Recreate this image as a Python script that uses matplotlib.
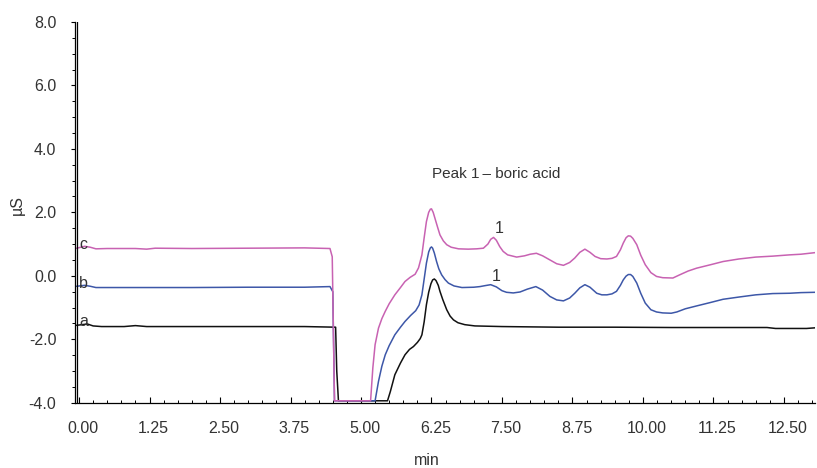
import matplotlib
matplotlib.use("Agg")
import matplotlib.pyplot as plt
from matplotlib.ticker import MultipleLocator, FormatStrFormatter
from matplotlib.transforms import ScaledTranslation

# ---- data (time in min, conductivity in µS) ----
a_t = [-0.04, 0.15, 0.25, 0.4, 0.8, 1.0, 1.2, 2.0, 3.0, 4.0, 4.55, 4.57, 4.6, 5.0,
       5.47, 5.52, 5.6, 5.7, 5.78, 5.86, 5.93, 6.0, 6.05, 6.08, 6.12, 6.16, 6.2, 6.24,
       6.27, 6.3, 6.33, 6.37, 6.4, 6.45, 6.52, 6.58, 6.64, 6.72, 6.84, 7.02, 7.5,
       8.5, 9.5, 10.5, 11.5, 12.2, 12.35, 12.9, 13.05]
a_v = [-1.56, -1.52, -1.58, -1.6, -1.6, -1.57, -1.6, -1.6, -1.6, -1.6, -1.62, -3.0, -3.94, -3.94,
       -3.94, -3.65, -3.12, -2.75, -2.49, -2.32, -2.23, -2.1, -1.98, -1.86, -1.45, -0.91, -0.52, -0.25,
       -0.13, -0.10, -0.15, -0.30, -0.49, -0.75, -1.07, -1.27, -1.39, -1.48, -1.54, -1.58, -1.6,
       -1.62, -1.62, -1.63, -1.63, -1.63, -1.66, -1.66, -1.64]

b_t = [-0.04, 0.1, 0.2, 0.3, 1.0, 2.0, 3.0, 4.0, 4.45, 4.5, 4.53, 5.25, 5.31, 5.37, 5.43,
       5.5, 5.6, 5.7, 5.78, 5.88, 5.97, 6.03, 6.08, 6.12, 6.16, 6.2, 6.23, 6.25, 6.27, 6.3, 6.34,
       6.38, 6.43, 6.49, 6.55, 6.65, 6.79, 7.0, 7.11, 7.2, 7.3, 7.4, 7.5, 7.58, 7.7, 7.82,
       7.95, 8.1, 8.22, 8.35, 8.47, 8.59, 8.7, 8.79, 8.88, 8.97, 9.06, 9.18, 9.27, 9.36,
       9.45, 9.53, 9.6, 9.65, 9.7, 9.74, 9.78, 9.82, 9.89, 9.96, 10.04, 10.14, 10.24, 10.35,
       10.5, 10.6, 10.75, 10.95, 11.2, 11.42, 11.7, 12.0, 12.3, 12.6, 12.8, 13.05]
b_v = [-0.33, -0.3, -0.33, -0.37, -0.37, -0.37, -0.36, -0.36, -0.34, -0.5, -3.94, -3.94, -3.33, -2.85, -2.49,
       -2.2, -1.86, -1.62, -1.44, -1.25, -1.1, -0.92, -0.6, -0.1, 0.4, 0.75, 0.88, 0.91, 0.87, 0.72, 0.45,
       0.22, 0.03, -0.12, -0.23, -0.32, -0.37, -0.36, -0.34, -0.31, -0.28, -0.35, -0.47, -0.52, -0.54, -0.51,
       -0.42, -0.34, -0.45, -0.65, -0.76, -0.79, -0.7, -0.55, -0.38, -0.28, -0.36, -0.55, -0.6, -0.6,
       -0.57, -0.49, -0.3, -0.13, -0.01, 0.04, 0.04, -0.02, -0.23, -0.55, -0.86, -1.07, -1.14, -1.17,
       -1.18, -1.14, -1.04, -0.95, -0.84, -0.74, -0.67, -0.6, -0.56, -0.55, -0.53, -0.52]

c_t = [-0.04, 0.1, 0.2, 0.3, 0.5, 1.0, 1.2, 1.35, 2.0, 3.0, 4.0, 4.45, 4.49, 4.53, 5.17,
       5.21, 5.25, 5.31, 5.37, 5.43, 5.5, 5.6, 5.7, 5.78, 5.87, 5.96, 6.02, 6.08, 6.12, 6.16,
       6.2, 6.23, 6.25, 6.28, 6.31, 6.36, 6.4, 6.46, 6.52, 6.6, 6.73, 6.9, 7.05, 7.17, 7.25, 7.3,
       7.35, 7.4, 7.46, 7.52, 7.6, 7.76, 7.9, 8.0, 8.11, 8.22, 8.35, 8.47, 8.59, 8.7, 8.79,
       8.88, 8.97, 9.06, 9.15, 9.25, 9.36, 9.45, 9.53, 9.6, 9.65, 9.7, 9.74, 9.78, 9.82, 9.89,
       9.96, 10.04, 10.14, 10.24, 10.35, 10.53, 10.65, 10.8, 10.95, 11.2, 11.42, 11.7, 12.0,
       12.3, 12.6, 12.8, 13.05]
c_v = [0.87, 0.93, 0.9, 0.85, 0.86, 0.86, 0.84, 0.87, 0.86, 0.87, 0.88, 0.86, 0.6, -3.94, -3.94,
       -2.9, -2.17, -1.65, -1.35, -1.12, -0.88, -0.6, -0.37, -0.18, -0.05, 0.05, 0.25, 0.66, 1.2, 1.71,
       2.0, 2.1, 2.11, 2.0, 1.82, 1.52, 1.29, 1.1, 0.98, 0.9, 0.85, 0.84, 0.85, 0.87, 1.0, 1.15,
       1.21, 1.12, 0.92, 0.77, 0.66, 0.59, 0.63, 0.68, 0.71, 0.63, 0.5, 0.38, 0.33, 0.42, 0.56,
       0.74, 0.84, 0.74, 0.61, 0.54, 0.53, 0.55, 0.61, 0.82, 1.03, 1.2, 1.26, 1.25, 1.18, 0.98,
       0.65, 0.35, 0.1, -0.02, -0.06, -0.07, 0.03, 0.15, 0.24, 0.35, 0.45, 0.53, 0.59,
       0.62, 0.66, 0.68, 0.73]

trace_names = ["a", "b", "c"]
x_ticks = [0.00, 1.25, 2.50, 3.75, 5.00, 6.25, 7.50, 8.75, 10.00, 11.25, 12.50]
y_ticks = [-4.0, -2.0, 0.0, 2.0, 4.0, 6.0, 8.0]

# ---- styles ----
FONT = ["Liberation Sans", "DejaVu Sans"]
plt.rcParams["font.family"] = FONT
FS = 11.5
TXT = "#333333"
colors = {"a": "#111111", "b": "#3D57A8", "c": "#C862B2"}

W, H, DPI = 817, 468, 100
fig = plt.figure(figsize=(W / DPI, H / DPI), dpi=DPI)
left_px, right_px, bot_px, top_px = 74.5, 815.0, 402.7, 22.0
ax = fig.add_axes([left_px / W, 1 - bot_px / H, (right_px - left_px) / W, (bot_px - top_px) / H])

for name, t, v in [("a", a_t, a_v), ("b", b_t, b_v), ("c", c_t, c_v)]:
    ax.plot(t, v, color=colors[name], lw=1.1, solid_joinstyle="round")

ax.set_xlim(-0.08, 13.05)
ax.set_ylim(-4.0, 8.0)

# double left axis line
ax.axvline(-0.044, color="black", lw=0.9)

for s in ["top", "right"]:
    ax.spines[s].set_visible(False)
ax.spines["left"].set_linewidth(0.9)
ax.spines["bottom"].set_linewidth(0.9)

ax.set_xticks(x_ticks)
ax.xaxis.set_major_formatter(FormatStrFormatter("%.2f"))
ax.xaxis.set_minor_locator(MultipleLocator(0.25))
ax.set_yticks(y_ticks)
ax.yaxis.set_major_formatter(FormatStrFormatter("%.1f"))
ax.yaxis.set_minor_locator(MultipleLocator(0.5))

ax.tick_params(axis="x", which="major", direction="in", length=4, width=0.8, pad=13,
               labelsize=FS, labelcolor=TXT)
ax.tick_params(axis="x", which="minor", direction="in", length=2.5, width=0.7)
ax.tick_params(axis="y", which="major", direction="out", length=3, width=0.8, pad=10,
               labelsize=FS, labelcolor=TXT)
ax.tick_params(axis="y", which="minor", direction="out", length=2, width=0.7)

off = ScaledTranslation(4 / DPI, 0, fig.dpi_scale_trans)
for lab in ax.get_xticklabels():
    lab.set_transform(lab.get_transform() + off)

ax.set_xlabel("min", fontsize=FS, color=TXT)
ax.xaxis.set_label_coords(0.476, -0.132)
ax.set_ylabel("µS", fontsize=FS, color=TXT)
ax.yaxis.set_label_coords(-0.067, 0.52)

# trace labels
label_pos = {"a": (0.08, -1.44), "b": (0.08, -0.23), "c": (0.08, 0.98)}
for name in trace_names:
    x, y = label_pos[name]
    ax.text(x, y, name, fontsize=FS, color=TXT, ha="center", va="center")

ax.text(7.45, 1.48, "1", fontsize=FS, color=TXT, ha="center", va="center")
ax.text(7.39, -0.02, "1", fontsize=FS, color=TXT, ha="center", va="center")
ax.text(6.26, 3.2, "Peak 1\u2009\u2013 boric acid", fontsize=11, color=TXT, ha="left", va="center")

fig.savefig("out.png", dpi=DPI)
